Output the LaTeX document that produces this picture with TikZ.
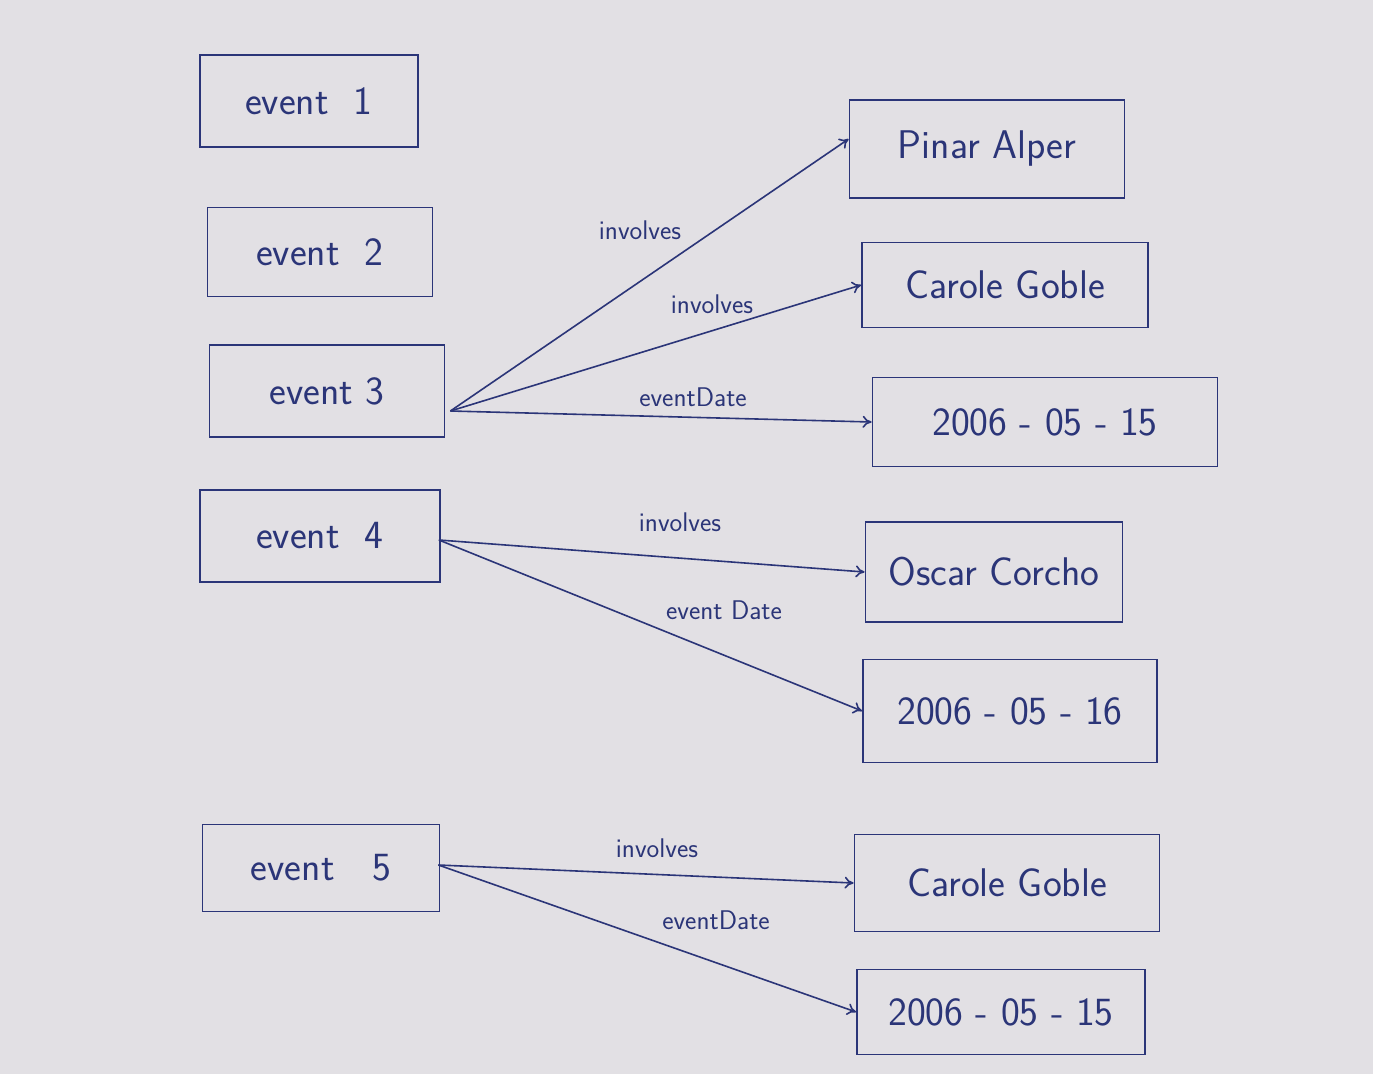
\documentclass[tikz,border=0pt]{standalone}
\usetikzlibrary{arrows.meta,calc}
\definecolor{ink}{HTML}{2B3578}
\definecolor{paper}{HTML}{E2E0E4}
\tikzset{
  box/.style={draw=ink, line width=1.8pt, text=ink, inner sep=0pt, font=\sffamily\fontsize{40}{46}\selectfont},
  rel/.style={draw=ink, line width=1.6pt, -{To[length=9pt,width=12pt]}},
  lbl/.style={text=ink, font=\sffamily\fontsize{27}{30}\selectfont, inner sep=2pt}
}
\begin{document}
\begin{tikzpicture}[x=1pt,y=-1pt]
\fill[paper] (0,0) rectangle (1373,1074);
\useasboundingbox (0,0) rectangle (1373,1074);
% left boxes
\node[box, minimum width=218pt, minimum height=92pt] (e1) at (309,101) {event\ \ 1};
\node[box, minimum width=225pt, minimum height=89pt] (e2) at (320,252) {event\ \ 2};
\node[box, minimum width=235pt, minimum height=92pt] (e3) at (327,391) {event\ 3};
\node[box, minimum width=240pt, minimum height=92pt] (e4) at (320,536) {event\ \ 4};
\node[box, minimum width=237pt, minimum height=87pt] (e5) at (321,868) {event\ \ \ 5};
% right boxes
\node[box, minimum width=275pt, minimum height=98pt] (pa) at (987,149) {Pinar Alper};
\node[box, minimum width=286pt, minimum height=85pt] (cg1) at (1005,285) {Carole Goble};
\node[box, minimum width=345pt, minimum height=89pt] (d1) at (1045,422) {2006\ -\ 05\ -\ 15};
\node[box, minimum width=257pt, minimum height=100pt] (oc) at (994,572) {Oscar Corcho};
\node[box, minimum width=294pt, minimum height=103pt] (d2) at (1010,711) {2006\ -\ 05\ -\ 16};
\node[box, minimum width=305pt, minimum height=97pt] (cg2) at (1007,883) {Carole Goble};
\node[box, minimum width=288pt, minimum height=85pt] (d3) at (1001,1012) {2006\ -\ 05\ -\ 15};
% start points
\coordinate (s3) at ($(e3.east)+(5,20)$);
\coordinate (s4) at ($(e4.east)+(-2,4)$);
\coordinate (s5) at ($(e5.east)+(-2,-3)$);
% connectors
\draw[rel] (s3) -- ($(pa.west)+(0,-10)$);
\draw[rel] (s3) -- (cg1.west);
\draw[rel] (s3) -- (d1.west);
\draw[rel] (s4) -- (oc.west);
\draw[rel] (s4) -- (d2.west);
\draw[rel] (s5) -- (cg2.west);
\draw[rel] (s5) -- (d3.west);
% labels
\node[lbl] (l1) at (640,230) {involves};
\node[lbl] (l2) at (712,304) {involves};
\node[lbl] (l3) at (693,397) {eventDate};
\node[lbl] (l4) at (680,522) {involves};
\node[lbl] (l5) at (724,610) {event Date};
\node[lbl] (l6) at (657,848) {involves};
\node[lbl] (l7) at (716,920) {eventDate};
\end{tikzpicture}
\end{document}
